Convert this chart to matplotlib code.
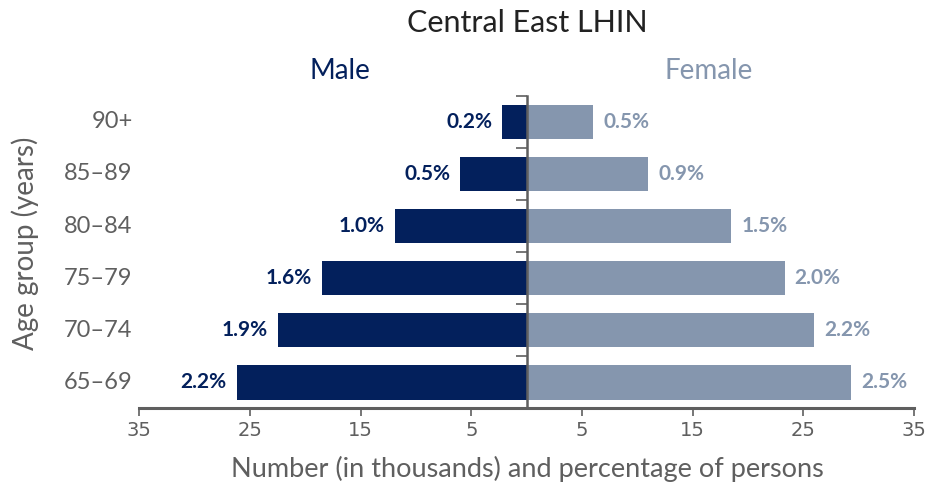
import matplotlib.pyplot as plt

ages = ["65\u201369", "70\u201374", "75\u201379", "80\u201384", "85\u201389", "90+"]
male = [26.2, 22.5, 18.5, 11.9, 6.0, 2.2]
female = [29.3, 26.0, 23.3, 18.5, 11.0, 6.0]
male_pct = ["2.2%", "1.9%", "1.6%", "1.0%", "0.5%", "0.2%"]
female_pct = ["2.5%", "2.2%", "2.0%", "1.5%", "0.9%", "0.5%"]
xticks = [-35, -25, -15, -5, 5, 15, 25, 35]

MALE_C = "#03205c"
FEMALE_C = "#8596ae"
GREY = "#5f5f5f"

plt.rcParams["font.family"] = ["Lato", "DejaVu Sans"]

fig = plt.figure(figsize=(9.28, 4.87), dpi=100)
ax = fig.add_axes([0.150, 0.162, 0.835, 0.641])

y = list(range(len(ages)))
ax.barh(y, [-m for m in male], height=0.67, color=MALE_C)
ax.barh(y, female, height=0.67, color=FEMALE_C)

for i in y:
    ax.text(-male[i] - 0.9, i, male_pct[i], ha="right", va="center",
            fontsize=15, fontweight="bold", color=MALE_C)
    ax.text(female[i] + 0.9, i, female_pct[i], ha="left", va="center",
            fontsize=15, fontweight="bold", color=FEMALE_C)

ax.set_xlim(-35, 35)
ax.set_ylim(-0.5, 5.5)

# spines: bottom axis plus a center line at zero
for s in ["top", "right"]:
    ax.spines[s].set_visible(False)
ax.spines["left"].set_position(("data", 0))
ax.spines["left"].set_color(GREY)
ax.spines["left"].set_linewidth(1.8)
ax.spines["bottom"].set_color(GREY)
ax.spines["bottom"].set_linewidth(2.2)

ax.set_xticks(xticks)
ax.set_xticklabels([str(abs(t)) for t in xticks], fontsize=14, color=GREY,
                   fontfamily=["Liberation Sans Narrow", "DejaVu Sans"])
ax.tick_params(axis="x", length=6, width=1.2, color=GREY, pad=3)

# boundary ticks on the center line
ax.set_yticks([i + 0.5 for i in y])
ax.set_yticklabels([])
ax.tick_params(axis="y", length=8, width=1.2, color=GREY, direction="out")

# age group labels at left
for i in y:
    ax.text(-35.6, i, ages[i], ha="right", va="center", fontsize=17, color=GREY)

fig.text(0.027, 0.50, "Age group (years)", rotation=90, ha="center", va="center",
         fontsize=20, color=GREY)
fig.text(0.568, 0.952, "Central East LHIN", ha="center", va="center",
         fontsize=22, color="#222222")
fig.text(0.366, 0.855, "Male", ha="center", va="center", fontsize=20, color=MALE_C)
fig.text(0.764, 0.855, "Female", ha="center", va="center", fontsize=20, color=FEMALE_C)
fig.text(0.568, 0.038, "Number (in thousands) and percentage of persons",
         ha="center", va="center", fontsize=19.5, color=GREY)

fig.savefig("out.png", dpi=100)
